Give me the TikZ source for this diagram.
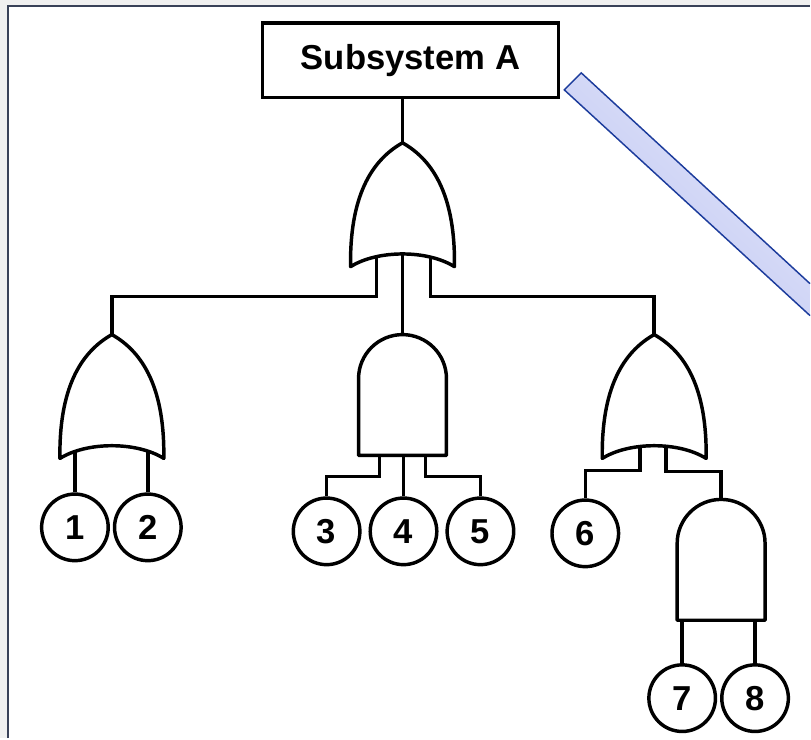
\documentclass[tikz,border=0pt]{standalone}
\usepackage{fontspec}
\setmainfont{Liberation Sans}
\usetikzlibrary{calc}

\definecolor{framegray}{RGB}{240,240,240}
\definecolor{frameline}{RGB}{57,65,88}
\definecolor{barblue}{RGB}{28,60,156}
\definecolor{barlight}{RGB}{228,231,251}
\definecolor{bardark}{RGB}{190,197,241}

\pgfdeclarelayer{paper}
\pgfdeclarelayer{wires}
\pgfsetlayers{paper,wires,main}

\begin{document}
\begin{tikzpicture}[x=0.75pt,y=0.75pt,yscale=-1,xscale=1,
	wire/.style={line width=2.6pt},
	gateline/.style={line width=2.6pt, line join=round, fill=white},
	event/.style={draw, circle, line width=2.6pt, fill=white, minimum size=50pt, inner sep=0pt, font=\fontsize{26}{30}\selectfont\bfseries},
	topevent/.style={draw, rectangle, line width=2.6pt, fill=white, minimum width=222pt, minimum height=56pt, font=\fontsize{26}{30}\selectfont\bfseries},
	orgate/.pic={
		\begin{scope}[yscale=-1]
		\draw[gateline] (0,0) .. controls (-32,18) and (-53,55) .. (-52,124) .. controls (-25,107) and (25,107) .. (52,124) .. controls (53,55) and (32,18) .. (0,0) -- cycle;
		\coordinate (-tip) at (0,0);
		\coordinate (-in) at (0,100);
		\end{scope}
	},
	andgate/.pic={
		\begin{scope}[yscale=-1]
		\draw[gateline] (-44,121) -- (-44,44) arc[start angle=180, end angle=360, radius=44] -- (44,121) -- cycle;
		\coordinate (-tip) at (0,0);
		\coordinate (-in) at (0,100);
		\end{scope}
	}]
		%Shape: Frame
		\begin{pgfonlayer}{paper}
			\fill[framegray] (0,0) rectangle (811,739);
			\fill[white] (8,6) rectangle (811,739);
			\draw[frameline, line width=1.5pt] (8,739) -- (8,6) -- (811,6);
		\end{pgfonlayer}
		\useasboundingbox (0,0) rectangle (811,739);
		
		%Shape: Bar
		\shade[top color=barlight, bottom color=bardark, shading angle=-43] (565,90) -- (582,73) -- (811,284) -- (811,316) -- cycle;
		\draw[barblue, line width=1.1pt] (811,284) -- (582,73) -- (565,90) -- (811,316);
		
		% Top Event
		\node[topevent] (top) at (411,60.5) {Subsystem A};
		
		% Gates
		\pic (gA) at (403,143) {orgate};
		\pic (gB) at (112,335) {orgate};
		\pic (gC) at (403,335) {andgate};
		\pic (gD) at (655,335) {orgate};
		\pic (gE) at (722,500) {andgate};
		
		% Basic Events
		\node[event] (e1) at (75,528) {1};
		\node[event] (e2) at (148,528) {2};
		\node[event] (e3) at (327,532) {3};
		\node[event] (e4) at (404,532) {4};
		\node[event] (e5) at (481,532) {5};
		\node[event] (e6) at (586,534) {6};
		\node[event] (e7) at (683,699) {7};
		\node[event] (e8) at (756,699) {8};
		
		% Connectors
		\begin{pgfonlayer}{wires}
			\draw[wire] (gA-tip) -- (gA-tip |- top.south);
			\draw[wire] ($(gA-in)+(-26,0)$) |- ($(gB-tip)+(0,-38)$) -- (gB-tip);
			\draw[wire] (gA-in) -- (gC-tip);
			\draw[wire] ($(gA-in)+(28,0)$) |- ($(gD-tip)+(0,-38)$) -- (gD-tip);
			\draw[wire] (e1.north) -- (e1.north |- gB-in);
			\draw[wire] (e2.north) -- (e2.north |- gB-in);
			\draw[wire] ($(gC-in)+(-23,0)$) |- ($(e3.north)+(0,-20)$) -- (e3.north);
			\draw[wire] (e4.north) -- (e4.north |- gC-in);
			\draw[wire] ($(gC-in)+(23,0)$) |- ($(e5.north)+(0,-20)$) -- (e5.north);
			\draw[wire] ($(gD-in)+(-14,0)$) |- ($(e6.north)+(0,-28)$) -- (e6.north);
			\draw[wire] ($(gD-in)+(12,0)$) |- ($(gE-tip)+(0,-28)$) -- (gE-tip);
			\draw[wire] (e7.north) -- (e7.north |- gE-in);
			\draw[wire] (e8.north) -- (e8.north |- gE-in);
		\end{pgfonlayer}
\end{tikzpicture}
\end{document}
